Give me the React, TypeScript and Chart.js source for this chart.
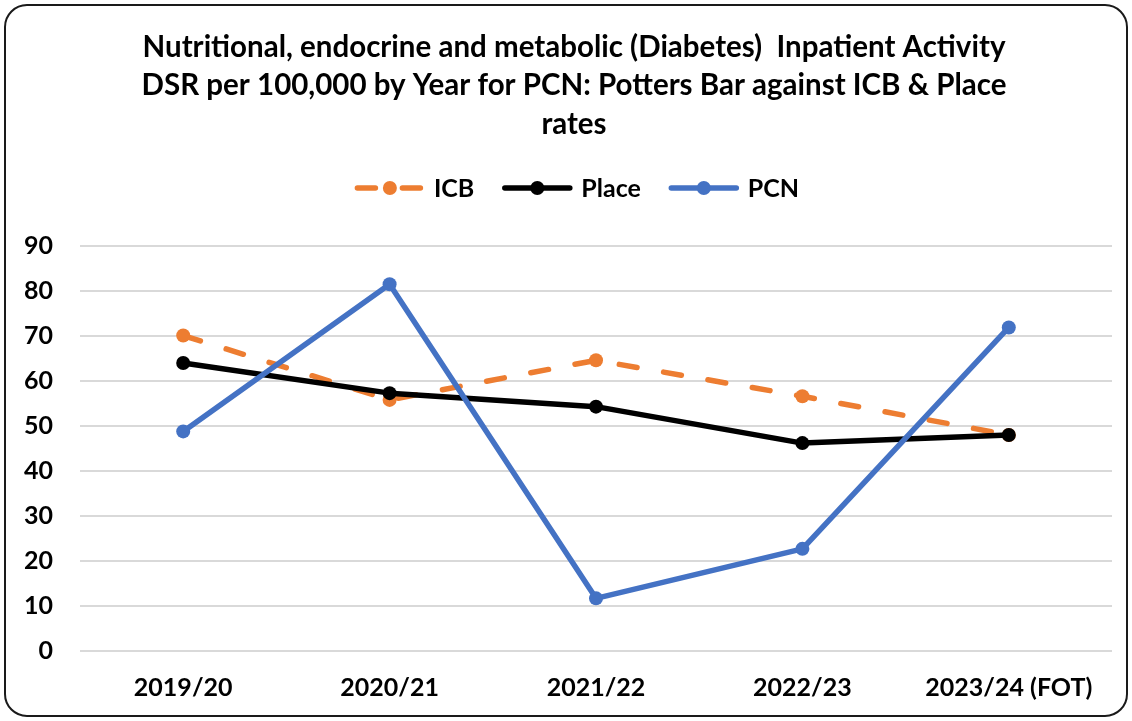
import React, { useEffect, useRef } from 'react';
import { Chart, registerables } from 'chart.js';

Chart.register(...registerables);

const titleLines = [
  'Nutritional, endocrine and metabolic (Diabetes)  Inpatient Activity',
  'DSR per 100,000 by Year for PCN: Potters Bar against ICB & Place',
  'rates',
];
const categories = ['2019/20', '2020/21', '2021/22', '2022/23', '2023/24 (FOT)'];
const seriesNames = ['ICB', 'Place', 'PCN'];
const icbValues = [70.1, 55.8, 64.6, 56.6, 48.0];
const placeValues = [64.0, 57.3, 54.3, 46.2, 48.0];
const pcnValues = [48.8, 81.5, 11.7, 22.7, 71.9];
const yTicks = [0, 10, 20, 30, 40, 50, 60, 70, 80, 90];

const FONT = 'Lato, "Open Sans", "Noto Sans", sans-serif';

const framePlugin = {
  id: 'frame',
  beforeDraw(chart: any) {
    const ctx = chart.ctx;
    ctx.save();
    ctx.fillStyle = '#ffffff';
    ctx.fillRect(0, 0, chart.width, chart.height);
    ctx.restore();
  },
  afterDraw(chart: any) {
    const ctx = chart.ctx;
    ctx.save();
    ctx.strokeStyle = '#1a1a1a';
    ctx.lineWidth = 2;
    ctx.beginPath();
    (ctx as any).roundRect(5, 5, 1122, 711, 22);
    ctx.stroke();
    ctx.restore();
  },
};

const titlePlugin = {
  id: 'titleLines',
  afterDraw(chart: any) {
    const ctx = chart.ctx;
    ctx.save();
    ctx.font = `bold 29.5px ${FONT}`;
    ctx.fillStyle = '#000000';
    ctx.textAlign = 'center';
    ctx.textBaseline = 'middle';
    titleLines.forEach((line, i) => {
      ctx.fillText(line, 574, 47 + i * 38.5);
    });
    ctx.restore();
  },
};

const legendPlugin = {
  id: 'lineLegend',
  afterDraw(chart: any) {
    const ctx = chart.ctx;
    const ds = chart.data.datasets;
    const markerW = 70;
    const textGap = 9;
    const itemGap = 28;
    const cy = 188;
    ctx.save();
    ctx.font = `bold 25px ${FONT}`;
    ctx.textBaseline = 'middle';
    const widths = ds.map((d: any) => ctx.measureText(d.label).width);
    const total =
      widths.reduce((a: number, w: number) => a + markerW + textGap + w, 0) + itemGap * (ds.length - 1);
    let x = 577 - total / 2;
    ds.forEach((d: any, i: number) => {
      ctx.strokeStyle = d.borderColor;
      ctx.lineWidth = d.borderWidth;
      ctx.lineCap = 'round';
      ctx.setLineDash(d.borderDash || []);
      ctx.beginPath();
      ctx.moveTo(x + 2.5, cy);
      ctx.lineTo(x + markerW - 2.5, cy);
      ctx.stroke();
      ctx.setLineDash([]);
      ctx.fillStyle = d.pointBackgroundColor;
      ctx.beginPath();
      ctx.arc(x + markerW / 2, cy, d.pointRadius, 0, Math.PI * 2);
      ctx.fill();
      ctx.fillStyle = '#000000';
      ctx.textAlign = 'left';
      ctx.fillText(d.label, x + markerW + textGap, cy + 1);
      x += markerW + textGap + widths[i] + itemGap;
    });
    ctx.restore();
  },
};

export default function App() {
  const canvasRef = useRef<HTMLCanvasElement | null>(null);

  useEffect(() => {
    if (!canvasRef.current) return;
    const mk = (label: string, data: number[], color: string, order: number, dash?: number[]) => ({
      label,
      data,
      borderColor: color,
      backgroundColor: color,
      pointBackgroundColor: color,
      pointBorderColor: color,
      borderWidth: 5.5,
      borderDash: dash,
      borderCapStyle: dash ? 'round' : 'butt',
      borderJoinStyle: 'round',
      pointRadius: 7,
      pointBorderWidth: 0,
      tension: 0,
      order,
    });
    const chart = new Chart(canvasRef.current, {
      type: 'line',
      data: {
        labels: categories,
        datasets: [
          mk(seriesNames[0], icbValues, '#ED7D31', 2, [18, 27]),
          mk(seriesNames[1], placeValues, '#000000', 1),
          mk(seriesNames[2], pcnValues, '#4472C4', 0),
        ] as any,
      },
      options: {
        animation: false,
        responsive: false,
        devicePixelRatio: 1,
        layout: { padding: { left: 15, right: 20, top: 246, bottom: 0 } },
        plugins: {
          legend: { display: false },
          tooltip: { enabled: false },
          title: { display: false },
        },
        scales: {
          x: {
            offset: true,
            grid: { display: false, drawTicks: false },
            border: { display: false },
            ticks: {
              color: '#000000',
              font: { family: FONT, size: 25, weight: 'bold' },
              padding: 22,
              maxRotation: 0,
              autoSkip: false,
            },
            afterFit: (scale: any) => {
              scale.height = 70;
            },
          },
          y: {
            min: 0,
            max: 90,
            grid: { color: '#d9d9d9', lineWidth: 2, drawTicks: false },
            border: { display: false },
            ticks: {
              color: '#000000',
              font: { family: FONT, size: 25, weight: 'bold' },
              padding: 27,
            },
            afterBuildTicks: (axis: any) => {
              axis.ticks = yTicks.map((v) => ({ value: v }));
            },
            afterFit: (scale: any) => {
              scale.width = 65;
            },
          },
        },
      } as any,
      plugins: [framePlugin, titlePlugin, legendPlugin],
    });
    return () => chart.destroy();
  }, []);

  return (
    <div style={{ position: 'absolute', left: 0, top: 0, width: 1132, height: 721 }}>
      <canvas ref={canvasRef} width={1132} height={721} style={{ width: 1132, height: 721, display: 'block' }} />
    </div>
  );
}
